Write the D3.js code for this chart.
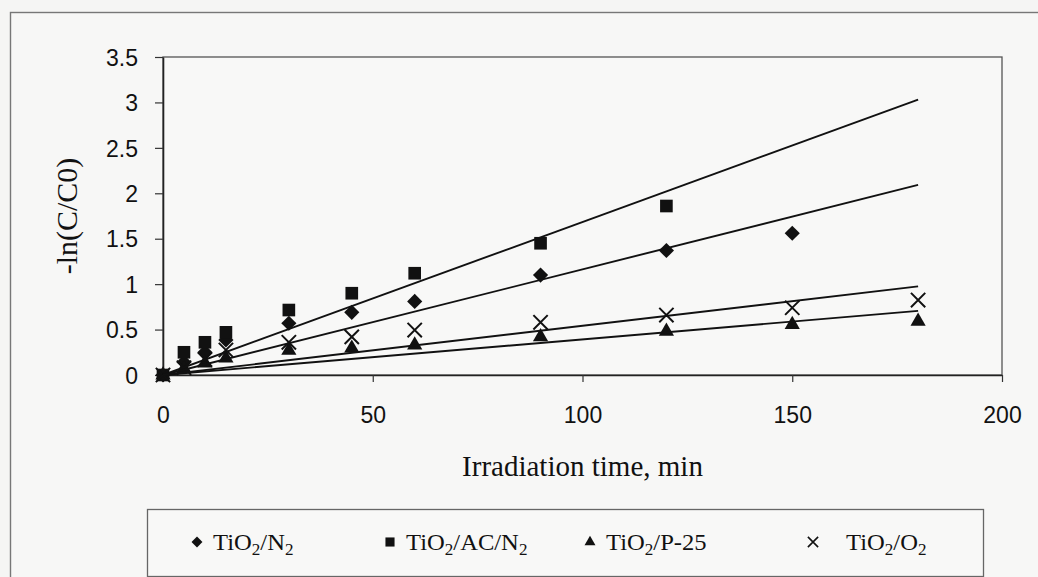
<!DOCTYPE html>
<html>
<head>
<meta charset="utf-8">
<script src="https://cdn.jsdelivr.net/npm/d3@7"></script>
<style>
  html, body { margin: 0; padding: 0; background: #f5f5f4; }
  svg { display: block; }
</style>
</head>
<body>
<svg id="chart" width="1038" height="577"></svg>
<script>
// Irradiation times (min) and -ln(C/C0) for each catalyst
const times = [0, 5, 10, 15, 30, 45, 60, 90, 120, 150, 180];
const tio2N2 = [0, 0.14, 0.25, 0.385, 0.57, 0.69, 0.81, 1.10, 1.37, 1.56];
const tio2AcN2 = [0, 0.25, 0.36, 0.47, 0.715, 0.90, 1.12, 1.45, 1.86];
const tio2P25 = [0, 0.07, 0.13, 0.185, 0.27, 0.295, 0.33, 0.42, 0.48, 0.555, 0.59];
const tio2O2 = [0, 0.08, 0.17, 0.275, 0.36, 0.42, 0.495, 0.58, 0.66, 0.74, 0.825];

const xTicks = [0, 50, 100, 150, 200];
const yTicks = [0, 0.5, 1, 1.5, 2, 2.5, 3, 3.5];
const trendEnd = 180;   // linear fits are drawn over 0..180 min

const series = [
  { values: tio2N2,   shape: "diamond",  label: [["TiO"], ["2", true], ["/N"], ["2", true]] },
  { values: tio2AcN2, shape: "square",   label: [["TiO"], ["2", true], ["/AC/N"], ["2", true]] },
  { values: tio2P25,  shape: "triangle", label: [["TiO"], ["2", true], ["/P-25"]] },
  { values: tio2O2,   shape: "times",    label: [["TiO"], ["2", true], ["/O"], ["2", true]] }
];

const svg = d3.select("#chart");
const W = 1038, H = 577;
const plot = { left: 163, right: 1002, top: 57, bottom: 375 };

const x = d3.scaleLinear().domain([0, 200]).range([plot.left, plot.right]);
const y = d3.scaleLinear().domain([0, 3.5]).range([plot.bottom, plot.top]);

// background and outer chart frame
svg.append("rect").attr("width", W).attr("height", H).attr("fill", "#f5f5f4");
svg.append("rect")
  .attr("x", 10.5).attr("y", 12.5).attr("width", W + 20).attr("height", H + 20)
  .attr("fill", "#f7f7f6").attr("stroke", "#777").attr("stroke-width", 1.4);

// plot area box
svg.append("rect")
  .attr("x", plot.left).attr("y", plot.top)
  .attr("width", plot.right - plot.left).attr("height", plot.bottom - plot.top)
  .attr("fill", "#f8f8f7").attr("stroke", "#555").attr("stroke-width", 1.3);

const sans = "'Liberation Sans', Arial, sans-serif";
const serif = "'Liberation Serif', 'Times New Roman', serif";

// y axis
const yAxis = svg.append("g")
  .attr("transform", `translate(${plot.left},0)`)
  .call(d3.axisLeft(y).tickValues(yTicks).tickSize(8).tickSizeOuter(0).tickPadding(17)
    .tickFormat(d => String(d)));
yAxis.select(".domain").attr("stroke", "#222").attr("stroke-width", 1.6);
yAxis.selectAll(".tick line").attr("stroke", "#333").attr("stroke-width", 1.2);
yAxis.selectAll(".tick text").attr("font-family", sans).attr("font-size", 23).attr("fill", "#111")
  .attr("dy", "0.36em");

// x axis
const xAxis = svg.append("g")
  .attr("transform", `translate(0,${plot.bottom})`)
  .call(d3.axisBottom(x).tickValues(xTicks).tickSize(7).tickSizeOuter(0).tickPadding(25)
    .tickFormat(d => String(d)));
xAxis.select(".domain").attr("stroke", "#222").attr("stroke-width", 1.6);
xAxis.selectAll(".tick line").attr("stroke", "#333").attr("stroke-width", 1.2);
xAxis.selectAll(".tick text").attr("font-family", sans).attr("font-size", 23).attr("fill", "#111");

// marker shapes
function symbolPath(shape, scale) {
  const k = scale || 1;
  switch (shape) {
    case "diamond":  return d3.symbol(d3.symbolSquare, 115 * k * k)();
    case "square":   return d3.symbol(d3.symbolSquare, 160 * k * k)();
    case "triangle": return d3.symbol(d3.symbolTriangle, 100 * k * k)();
    default:         return d3.symbol(d3.symbolTimes, 135 * k * k)();
  }
}
function styleMarker(sel, shape) {
  if (shape === "times") {
    sel.attr("fill", "none").attr("stroke", "#111").attr("stroke-width", 2);
  } else {
    sel.attr("fill", "#111").attr("stroke", "none");
  }
  return sel;
}

const marks = svg.append("g");
series.forEach(s => {
  const pts = s.values.map((v, i) => [times[i], v]);
  const sel = marks.selectAll(null).data(pts).join("path")
    .attr("d", symbolPath(s.shape))
    .attr("transform", d => `translate(${x(d[0])},${y(d[1])})${s.shape === "diamond" ? " rotate(45)" : ""}`);
  styleMarker(sel, s.shape);
});

// linear fits through the origin (least squares)
const fits = svg.append("g");
series.forEach(s => {
  let sxy = 0, sxx = 0;
  s.values.forEach((v, i) => { sxy += times[i] * v; sxx += times[i] * times[i]; });
  const k = sxy / sxx;
  fits.append("line")
    .attr("x1", x(0)).attr("y1", y(0))
    .attr("x2", x(trendEnd)).attr("y2", y(k * trendEnd))
    .attr("stroke", "#111").attr("stroke-width", 1.9);
});

// axis titles
svg.append("text")
  .attr("transform", `translate(77,${(plot.top + plot.bottom) / 2}) rotate(-90)`)
  .attr("text-anchor", "middle").attr("font-family", serif).attr("font-size", 30).attr("fill", "#111")
  .text("-ln(C/C0)");
svg.append("text")
  .attr("x", (plot.left + plot.right) / 2).attr("y", 476)
  .attr("text-anchor", "middle")
  .attr("font-family", serif).attr("font-size", 29).attr("fill", "#111")
  .text("Irradiation time, min");

// legend
const legend = svg.append("g");
legend.append("rect")
  .attr("x", 147.5).attr("y", 509.5).attr("width", 836).attr("height", 67)
  .attr("fill", "#f8f8f7").attr("stroke", "#666").attr("stroke-width", 1.3);

const legendMarkX = [197, 390, 590, 813];
const legendTextX = [213, 406, 606, 846];
const legendY = 542;
series.forEach((s, i) => {
  const m = legend.append("path")
    .attr("d", symbolPath(s.shape, 0.72))
    .attr("transform", `translate(${legendMarkX[i]},${legendY})${s.shape === "diamond" ? " rotate(45)" : ""}`);
  styleMarker(m, s.shape);
  if (s.shape === "times") m.attr("stroke-width", 1.6);
  const g = legend.append("g")
    .attr("transform", `translate(${legendTextX[i]},${legendY + 8}) scale(1.07,1)`);
  const t = g.append("text")
    .attr("font-family", serif).attr("font-size", 23).attr("fill", "#111");
  s.label.forEach(([str, sub], j) => {
    const ts = t.append("tspan").text(str);
    if (sub) ts.attr("font-size", 16).attr("dy", 5);
    else if (j > 0) ts.attr("dy", -5);
  });
});
</script>
</body>
</html>
